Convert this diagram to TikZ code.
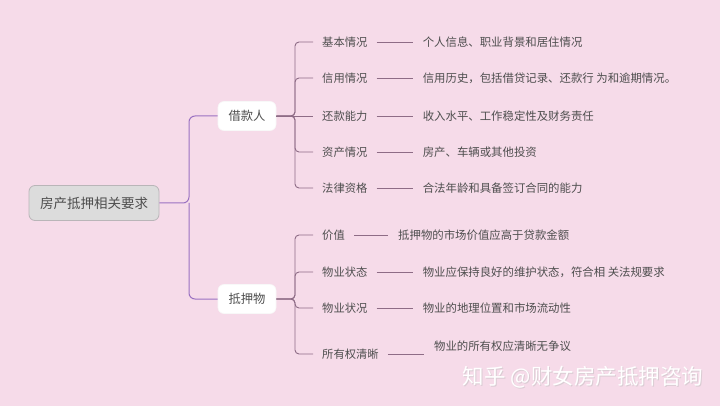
\documentclass[tikz,border=0pt]{standalone}
\usepackage{fontspec}
\setmainfont{Noto Sans CJK SC}
\definecolor{bgpink}{HTML}{F6DBE9}
\definecolor{txtgrey}{HTML}{4E4E4E}
\definecolor{mainline}{HTML}{9B72C2}
\definecolor{subline}{HTML}{8E6C86}
\definecolor{rootfill}{HTML}{DCDCDC}
\definecolor{rootdraw}{HTML}{B9B5B8}
\tikzset{
  x=1pt, y=-1pt,
  rootbox/.style={draw=rootdraw, fill=rootfill, rounded corners=6pt, line width=0.8pt,
    minimum width=130pt, minimum height=35pt, inner sep=0pt, font=\fontsize{13.5}{14}\selectfont, text=txtgrey},
  branchbox/.style={draw=white!90!rootdraw, fill=white, rounded corners=6pt, line width=0.6pt,
    minimum width=58pt, minimum height=29pt, inner sep=0pt, font=\fontsize{12.3}{13}\selectfont, text=txtgrey},
  childlabel/.style={anchor=west, inner xsep=9pt, inner ysep=2pt, font=\fontsize{11.3}{12}\selectfont, text=txtgrey},
  desclabel/.style={anchor=west, inner xsep=10pt, inner ysep=2pt, font=\fontsize{11.4}{12}\selectfont, text=txtgrey},
  mainconn/.style={draw=mainline, line width=1pt, rounded corners=6pt},
  subconn/.style={draw=subline, line width=0.9pt, rounded corners=4pt},
  dashconn/.style={draw=subline, line width=0.9pt},
}
\begin{document}
\begin{tikzpicture}
\fill[bgpink] (0,0) rectangle (720,406);
\useasboundingbox (0,0) rectangle (720,406);

% root and branches
\node[rootbox] (root) at (94,203) {房产抵押相关要求};
\node[branchbox] (b1) at (247,116) {借款人};
\node[branchbox] (b2) at (247,299) {抵押物};
\coordinate (j) at (189,203);
\draw[mainconn] (root.east) -- (j) |- (b1.west);
\draw[mainconn] (j) |- (b2.west);

% borrower children
\node[childlabel] (c1) at (313,42) {基本情况};
\node[childlabel] (c2) at (313,78) {信用情况};
\node[childlabel] (c3) at (313,116) {还款能力};
\node[childlabel] (c4) at (313,152) {资产情况};
\node[childlabel] (c5) at (313,188) {法律资格};
\coordinate (k1) at (295,116);
\foreach \c in {c1,c2,c4,c5} \draw[subconn] (b1.east) -- (k1) |- (\c.west);
\draw[subconn] (b1.east) -- (c3.west);

\node[desclabel] (d1) at ([xshift=36pt]c1.east) {个人信息、职业背景和居住情况};
\node[desclabel] (d2) at ([xshift=36pt]c2.east) {信用历史，包括借贷记录、还款行 为和逾期情况。};
\node[desclabel] (d3) at ([xshift=36pt]c3.east) {收入水平、工作稳定性及财务责任};
\node[desclabel] (d4) at ([xshift=36pt]c4.east) {房产、车辆或其他投资};
\node[desclabel] (d5) at ([xshift=36pt]c5.east) {合法年龄和具备签订合同的能力};
\foreach \i in {1,...,5} \draw[dashconn] (c\i.east) -- (d\i.west);

% collateral children
\node[childlabel] (c6) at (313,235) {价值};
\node[childlabel] (c7) at (313,272) {物业状态};
\node[childlabel] (c8) at (313,308) {物业状况};
\node[childlabel] (c9) at (313,354) {所有权清晰};
\coordinate (k2) at (295,299);
\foreach \c in {c6,c7,c8,c9} \draw[subconn] (b2.east) -- (k2) |- (\c.west);

\node[desclabel] (d6) at ([xshift=34pt]c6.east) {抵押物的市场价值应高于贷款金额};
\node[desclabel] (d7) at ([xshift=36pt]c7.east) {物业应保持良好的维护状态，符合相 关法规要求};
\node[desclabel] (d8) at ([xshift=36pt]c8.east) {物业的地理位置和市场流动性};
\node[desclabel] (d9) at ([xshift=36pt,yshift=8pt]c9.east) {物业的所有权应清晰无争议};
\foreach \i in {6,7,8} \draw[dashconn] (c\i.east) -- (d\i.west);
\draw[dashconn] (c9.east) -- (c9.east -| d9.west);

% watermark
\node[text=black!25, opacity=0.5, font=\fontsize{21.5}{22}\selectfont] (wms) at (584,378) {知乎 @财女房产抵押咨询};
\node[text=white, font=\fontsize{21.5}{22}\selectfont] (wm) at (583,377) {知乎 @财女房产抵押咨询};
\end{tikzpicture}
\end{document}
